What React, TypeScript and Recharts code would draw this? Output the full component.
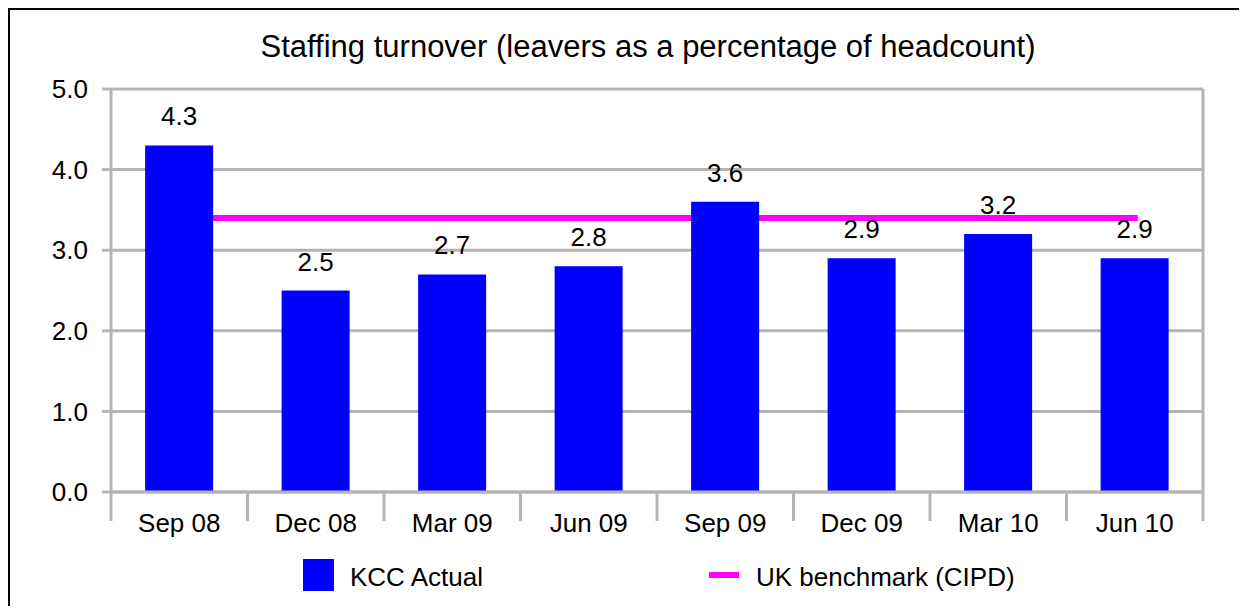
import {
  ComposedChart,
  Bar,
  Line,
  XAxis,
  YAxis,
  CartesianGrid,
  LabelList,
  Legend,
} from "recharts";

const categories = ["Sep 08", "Dec 08", "Mar 09", "Jun 09", "Sep 09", "Dec 09", "Mar 10", "Jun 10"];
const kccActual = [4.3, 2.5, 2.7, 2.8, 3.6, 2.9, 3.2, 2.9];
const ukBenchmark = [3.4, 3.4, 3.4, 3.4, 3.4, 3.4, 3.4, 3.4];
const yTicks = [0, 1, 2, 3, 4, 5];

const data = categories.map((name, i) => ({
  name,
  actual: kccActual[i],
  benchmark: ukBenchmark[i],
}));

const GRID = "#b4b4b4";
const FONT = "'Liberation Sans', Arial, sans-serif";

// category label plus tick marks on the category boundaries (Excel style)
function CategoryTick(props: any) {
  const { x, y, payload, index } = props;
  const half = payload?.offset || 0;
  const last = index === categories.length - 1;
  return (
    <g>
      <line x1={x - half} x2={x - half} y1={y} y2={y + 29} stroke={GRID} strokeWidth={3} />
      {last && <line x1={x + half} x2={x + half} y1={y} y2={y + 29} stroke={GRID} strokeWidth={3} />}
      <text x={x} y={y + 40} textAnchor="middle" fill="#000" fontSize={26}>
        {payload.value}
      </text>
    </g>
  );
}

function LegendContent(props: any) {
  const payload: any[] = props.payload || [];
  const bar = payload.find((p) => p.dataKey === "actual");
  const line = payload.find((p) => p.dataKey === "benchmark");
  const text = { position: "absolute" as const, fontSize: 26, lineHeight: "26px", color: "#000", whiteSpace: "nowrap" as const };
  return (
    <div style={{ position: "relative", height: 0, fontFamily: FONT }}>
      {bar && (
        <>
          <div style={{ position: "absolute", left: 295, top: 551, width: 31, height: 32, background: bar.color }} />
          <div style={{ ...text, left: 342, top: 556 }}>{bar.value}</div>
        </>
      )}
      {line && (
        <>
          <div style={{ position: "absolute", left: 701, top: 564, width: 30, height: 6, background: line.color }} />
          <div style={{ ...text, left: 748, top: 556 }}>{line.value}</div>
        </>
      )}
    </div>
  );
}

export default function App() {
  return (
    <div style={{ position: "relative", width: 1231, height: 598, fontFamily: FONT, background: "#fff" }}>
      <ComposedChart
        width={1231}
        height={598}
        data={data}
        barCategoryGap="25%"
        margin={{ top: 81, right: 35, bottom: 74, left: 0 }}
      >
        <CartesianGrid vertical={false} stroke={GRID} strokeWidth={3} />
        <XAxis
          dataKey="name"
          height={40}
          axisLine={{ stroke: GRID, strokeWidth: 3 }}
          tickLine={false}
          tickSize={0}
          tickMargin={0}
          interval={0}
          tick={<CategoryTick />}
        />
        <YAxis
          domain={[0, 5]}
          ticks={yTicks}
          width={103}
          tickSize={9}
          tickMargin={14}
          tickFormatter={(v: number) => v.toFixed(1)}
          axisLine={{ stroke: GRID, strokeWidth: 3 }}
          tickLine={{ stroke: GRID, strokeWidth: 3 }}
          tick={{ fill: "#000", fontSize: 26 }}
        />
        <YAxis
          yAxisId="right"
          orientation="right"
          domain={[0, 5]}
          allowDataOverflow
          width={1}
          tick={false}
          tickLine={false}
          axisLine={{ stroke: GRID, strokeWidth: 3 }}
        />
        <Line
          dataKey="benchmark"
          name="UK benchmark (CIPD)"
          stroke="#ff00ff"
          strokeWidth={6}
          strokeLinecap="square"
          dot={false}
          activeDot={false}
          zIndex={250}
          isAnimationActive={false}
        />
        <Bar dataKey="actual" name="KCC Actual" fill="#0000ff" isAnimationActive={false}>
          <LabelList
            dataKey="actual"
            position="top"
            offset={20}
            fill="#000"
            fontSize={26}
            formatter={(v: any) => Number(v).toFixed(1)}
          />
        </Bar>
        <Legend
          layout="horizontal"
          verticalAlign="middle"
          align="center"
          content={<LegendContent />}
          wrapperStyle={{ top: 0, left: 0, width: 1231 }}
        />
      </ComposedChart>
      <div
        style={{
          position: "absolute",
          left: 640,
          top: 23,
          transform: "translateX(-50%)",
          fontSize: 31,
          lineHeight: "31px",
          whiteSpace: "nowrap",
          color: "#000",
        }}
      >
        Staffing turnover (leavers as a percentage of headcount)
      </div>
      <div
        style={{
          position: "absolute",
          left: 0,
          top: 0,
          width: 1231,
          height: 598,
          borderLeft: "2px solid #000",
          borderTop: "2px solid #000",
          boxSizing: "border-box",
          pointerEvents: "none",
        }}
      />
    </div>
  );
}
